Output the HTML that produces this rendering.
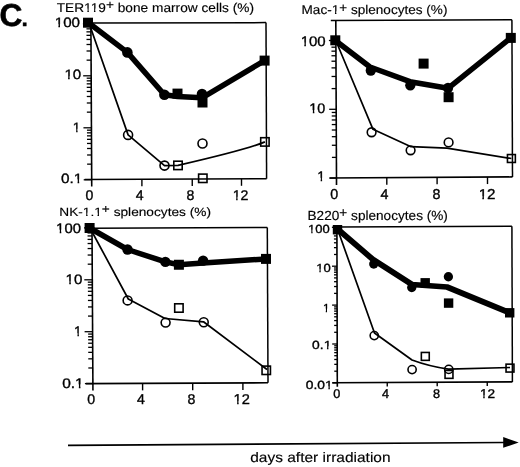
<!DOCTYPE html><html><head><meta charset="utf-8"><style>html,body{margin:0;padding:0;background:#fff;}svg{display:block;will-change:transform;}</style></head><body><svg width="520" height="467" viewBox="0 0 520 467" stroke="#000" fill="#000" font-family="Liberation Sans, sans-serif" text-rendering="geometricPrecision">
<rect x="0" y="0" width="520" height="467" fill="#fff" stroke="none"/>
<text id="C" transform="matrix(0.9893,0,0,0.9893,-0.55,25.73)" font-size="32" font-weight="bold" stroke="#000" stroke-width="0.6">C</text>
<text id="Cd" transform="matrix(0.7105,0,0,0.7105,21.40,25.75)" font-size="32" font-weight="bold" stroke="#000" stroke-width="0.6">.</text>
<text id="T1" transform="matrix(1.0538,0,0,0.9746,56.66,11.63)" font-size="13" stroke="#000" stroke-width="0.15">TER119<tspan dy="-2.3">+</tspan><tspan dy="2.3"> bone marrow cells (%)</tspan></text>
<g transform="matrix(1.0538,0,0,0.9746,56.66,11.63)" fill="#fff" stroke="none"><rect x="25.79" y="-3.17" width="3.36" height="4.97"/><rect x="30.54" y="-3.17" width="2.91" height="4.97"/><rect x="32.04" y="-3.17" width="3.36" height="4.97"/><rect x="36.79" y="-3.17" width="2.91" height="4.97"/></g>
<text id="T2" transform="matrix(1.0435,0,0,0.9835,301.54,14.42)" font-size="13" stroke="#000" stroke-width="0.15">Mac-1<tspan dy="-2.3">+</tspan><tspan dy="2.3"> splenocytes (%)</tspan></text>
<g transform="matrix(1.0435,0,0,0.9835,301.54,14.42)" fill="#fff" stroke="none"><rect x="28.67" y="-3.17" width="3.36" height="4.97"/><rect x="33.41" y="-3.17" width="2.91" height="4.97"/></g>
<text id="T3" transform="matrix(1.0526,0,0,0.9214,59.25,215.51)" font-size="13" stroke="#000" stroke-width="0.15">NK-1.1<tspan dy="-2.3">+</tspan><tspan dy="2.3"> splenocytes (%)</tspan></text>
<g transform="matrix(1.0526,0,0,0.9214,59.25,215.51)" fill="#fff" stroke="none"><rect x="22.17" y="-3.17" width="3.36" height="4.97"/><rect x="26.91" y="-3.17" width="2.91" height="4.97"/><rect x="33.01" y="-3.17" width="3.36" height="4.97"/><rect x="37.76" y="-3.17" width="2.91" height="4.97"/></g>
<text id="T4" transform="matrix(1.0469,0,0,1.0184,307.54,219.69)" font-size="13" stroke="#000" stroke-width="0.15">B220<tspan dy="-2.3">+</tspan><tspan dy="2.3"> splenocytes (%)</tspan></text>
<text id="DA" transform="matrix(1.0325,0,0,0.9257,250.24,462.29)" font-size="15" stroke="#000" stroke-width="0.15">days after irradiation</text>
<text id="p1y100" transform="matrix(1.0860,0,0,0.9706,54.70,27.33)" font-size="14" stroke="#000" stroke-width="0.35">100</text>
<g transform="matrix(1.0860,0,0,0.9706,54.70,27.33)" fill="#fff" stroke="none"><rect x="-0.13" y="-3.25" width="3.53" height="5.05"/><rect x="4.88" y="-3.25" width="3.07" height="5.05"/></g>
<text id="p1y10" transform="matrix(1.0806,0,0,0.9706,64.41,79.36)" font-size="14" stroke="#000" stroke-width="0.35">10</text>
<g transform="matrix(1.0806,0,0,0.9706,64.41,79.36)" fill="#fff" stroke="none"><rect x="-0.13" y="-3.25" width="3.53" height="5.05"/><rect x="4.88" y="-3.25" width="3.07" height="5.05"/></g>
<text id="p1y1" transform="matrix(0.9706,0,0,0.9706,72.85,131.96)" font-size="14" stroke="#000" stroke-width="0.35">1</text>
<g transform="matrix(0.9706,0,0,0.9706,72.85,131.96)" fill="#fff" stroke="none"><rect x="-0.13" y="-3.25" width="3.53" height="5.05"/><rect x="4.88" y="-3.25" width="3.07" height="5.05"/></g>
<text id="p1y01" transform="matrix(1.0971,0,0,0.9706,61.05,182.54)" font-size="14" stroke="#000" stroke-width="0.35">0.1</text>
<g transform="matrix(1.0971,0,0,0.9706,61.05,182.54)" fill="#fff" stroke="none"><rect x="11.54" y="-3.25" width="3.53" height="5.05"/><rect x="16.55" y="-3.25" width="3.07" height="5.05"/></g>
<text id="p1x0" transform="matrix(1.0035,0,0,1.0035,85.39,200.07)" font-size="14" stroke="#000" stroke-width="0.35">0</text>
<text id="p1x4" transform="matrix(1.0035,0,0,1.0035,135.73,200.07)" font-size="14" stroke="#000" stroke-width="0.35">4</text>
<text id="p1x8" transform="matrix(1.0035,0,0,1.0035,186.61,200.07)" font-size="14" stroke="#000" stroke-width="0.35">8</text>
<text id="p1x12" transform="matrix(1.0125,0,0,1.0035,232.69,200.07)" font-size="14" stroke="#000" stroke-width="0.35">12</text>
<g transform="matrix(1.0125,0,0,1.0035,232.69,200.07)" fill="#fff" stroke="none"><rect x="-0.13" y="-3.25" width="3.53" height="5.05"/><rect x="4.88" y="-3.25" width="3.07" height="5.05"/></g>
<text id="p2y100" transform="matrix(1.0724,0,0,0.9839,300.66,45.69)" font-size="14" stroke="#000" stroke-width="0.35">100</text>
<g transform="matrix(1.0724,0,0,0.9839,300.66,45.69)" fill="#fff" stroke="none"><rect x="-0.13" y="-3.25" width="3.53" height="5.05"/><rect x="4.88" y="-3.25" width="3.07" height="5.05"/></g>
<text id="p2y10" transform="matrix(1.0232,0,0,0.9839,309.35,113.34)" font-size="14" stroke="#000" stroke-width="0.35">10</text>
<g transform="matrix(1.0232,0,0,0.9839,309.35,113.34)" fill="#fff" stroke="none"><rect x="-0.13" y="-3.25" width="3.53" height="5.05"/><rect x="4.88" y="-3.25" width="3.07" height="5.05"/></g>
<text id="p2y1" transform="matrix(0.9839,0,0,0.9839,317.31,181.05)" font-size="14" stroke="#000" stroke-width="0.35">1</text>
<g transform="matrix(0.9839,0,0,0.9839,317.31,181.05)" fill="#fff" stroke="none"><rect x="-0.13" y="-3.25" width="3.53" height="5.05"/><rect x="4.88" y="-3.25" width="3.07" height="5.05"/></g>
<text id="p2x0" transform="matrix(1.0191,0,0,1.0191,330.25,199.36)" font-size="14" stroke="#000" stroke-width="0.35">0</text>
<text id="p2x4" transform="matrix(1.0191,0,0,1.0191,380.48,199.36)" font-size="14" stroke="#000" stroke-width="0.35">4</text>
<text id="p2x8" transform="matrix(1.0191,0,0,1.0191,432.46,199.36)" font-size="14" stroke="#000" stroke-width="0.35">8</text>
<text id="p2x12" transform="matrix(1.0834,0,0,1.0191,478.64,199.36)" font-size="14" stroke="#000" stroke-width="0.35">12</text>
<g transform="matrix(1.0834,0,0,1.0191,478.64,199.36)" fill="#fff" stroke="none"><rect x="-0.13" y="-3.25" width="3.53" height="5.05"/><rect x="4.88" y="-3.25" width="3.07" height="5.05"/></g>
<text id="p3y100" transform="matrix(1.0619,0,0,0.9834,56.11,232.85)" font-size="14" stroke="#000" stroke-width="0.35">100</text>
<g transform="matrix(1.0619,0,0,0.9834,56.11,232.85)" fill="#fff" stroke="none"><rect x="-0.13" y="-3.25" width="3.53" height="5.05"/><rect x="4.88" y="-3.25" width="3.07" height="5.05"/></g>
<text id="p3y10" transform="matrix(1.0805,0,0,0.9834,65.56,284.02)" font-size="14" stroke="#000" stroke-width="0.35">10</text>
<g transform="matrix(1.0805,0,0,0.9834,65.56,284.02)" fill="#fff" stroke="none"><rect x="-0.13" y="-3.25" width="3.53" height="5.05"/><rect x="4.88" y="-3.25" width="3.07" height="5.05"/></g>
<text id="p3y1" transform="matrix(0.9834,0,0,0.9834,74.10,336.38)" font-size="14" stroke="#000" stroke-width="0.35">1</text>
<g transform="matrix(0.9834,0,0,0.9834,74.10,336.38)" fill="#fff" stroke="none"><rect x="-0.13" y="-3.25" width="3.53" height="5.05"/><rect x="4.88" y="-3.25" width="3.07" height="5.05"/></g>
<text id="p3y01" transform="matrix(1.1057,0,0,0.9834,62.17,387.56)" font-size="14" stroke="#000" stroke-width="0.35">0.1</text>
<g transform="matrix(1.1057,0,0,0.9834,62.17,387.56)" fill="#fff" stroke="none"><rect x="11.54" y="-3.25" width="3.53" height="5.05"/><rect x="16.55" y="-3.25" width="3.07" height="5.05"/></g>
<text id="p3x0" transform="matrix(1.0109,0,0,1.0109,87.35,404.19)" font-size="14" stroke="#000" stroke-width="0.35">0</text>
<text id="p3x4" transform="matrix(1.0109,0,0,1.0109,136.88,404.19)" font-size="14" stroke="#000" stroke-width="0.35">4</text>
<text id="p3x8" transform="matrix(1.0109,0,0,1.0109,187.44,404.19)" font-size="14" stroke="#000" stroke-width="0.35">8</text>
<text id="p3x12" transform="matrix(1.0433,0,0,1.0109,233.57,404.19)" font-size="14" stroke="#000" stroke-width="0.35">12</text>
<g transform="matrix(1.0433,0,0,1.0109,233.57,404.19)" fill="#fff" stroke="none"><rect x="-0.13" y="-3.25" width="3.53" height="5.05"/><rect x="4.88" y="-3.25" width="3.07" height="5.05"/></g>
<text id="p4y100" transform="matrix(1.0810,0,0,0.9809,308.09,232.65)" font-size="12" stroke="#000" stroke-width="0.35">100</text>
<g transform="matrix(1.0810,0,0,0.9809,308.09,232.65)" fill="#fff" stroke="none"><rect x="-0.29" y="-3.10" width="3.18" height="4.90"/><rect x="4.20" y="-3.10" width="2.74" height="4.90"/></g>
<text id="p4y10" transform="matrix(1.0870,0,0,0.9809,316.18,271.84)" font-size="12" stroke="#000" stroke-width="0.35">10</text>
<g transform="matrix(1.0870,0,0,0.9809,316.18,271.84)" fill="#fff" stroke="none"><rect x="-0.29" y="-3.10" width="3.18" height="4.90"/><rect x="4.20" y="-3.10" width="2.74" height="4.90"/></g>
<text id="p4y1" transform="matrix(0.9809,0,0,0.9809,322.90,311.61)" font-size="12" stroke="#000" stroke-width="0.35">1</text>
<g transform="matrix(0.9809,0,0,0.9809,322.90,311.61)" fill="#fff" stroke="none"><rect x="-0.29" y="-3.10" width="3.18" height="4.90"/><rect x="4.20" y="-3.10" width="2.74" height="4.90"/></g>
<text id="p4y01" transform="matrix(1.1528,0,0,0.9809,312.09,349.36)" font-size="12" stroke="#000" stroke-width="0.35">0.1</text>
<g transform="matrix(1.1528,0,0,0.9809,312.09,349.36)" fill="#fff" stroke="none"><rect x="9.71" y="-3.10" width="3.18" height="4.90"/><rect x="14.20" y="-3.10" width="2.74" height="4.90"/></g>
<text id="p4y001" transform="matrix(1.1510,0,0,0.9809,305.84,389.23)" font-size="12" stroke="#000" stroke-width="0.35">0.01</text>
<g transform="matrix(1.1510,0,0,0.9809,305.84,389.23)" fill="#fff" stroke="none"><rect x="16.39" y="-3.10" width="3.18" height="4.90"/><rect x="20.87" y="-3.10" width="2.74" height="4.90"/></g>
<text id="p4x0" transform="matrix(1.0566,0,0,1.0566,333.17,398.38)" font-size="12" stroke="#000" stroke-width="0.35">0</text>
<text id="p4x4" transform="matrix(1.0566,0,0,1.0566,382.10,398.38)" font-size="12" stroke="#000" stroke-width="0.35">4</text>
<text id="p4x8" transform="matrix(1.0566,0,0,1.0566,432.96,398.38)" font-size="12" stroke="#000" stroke-width="0.35">8</text>
<text id="p4x12" transform="matrix(1.1321,0,0,1.0566,479.95,398.38)" font-size="12" stroke="#000" stroke-width="0.35">12</text>
<g transform="matrix(1.1321,0,0,1.0566,479.95,398.38)" fill="#fff" stroke="none"><rect x="-0.29" y="-3.10" width="3.18" height="4.90"/><rect x="4.20" y="-3.10" width="2.74" height="4.90"/></g>
<line x1="90.90" y1="23.10" x2="91.74" y2="186.40" stroke-width="1.6"/>
<line x1="90.90" y1="23.10" x2="266.00" y2="22.60" stroke-width="1.5"/>
<line x1="266.00" y1="22.60" x2="266.60" y2="178.70" stroke-width="1.5"/>
<line x1="84.70" y1="179.43" x2="266.60" y2="178.70" stroke-width="1.6"/>
<line x1="83.70" y1="179.80" x2="91.70" y2="179.80" stroke-width="1.3"/>
<line x1="87.12" y1="164.15" x2="91.62" y2="164.15" stroke-width="1.3"/>
<line x1="87.08" y1="154.99" x2="91.58" y2="154.99" stroke-width="1.3"/>
<line x1="87.04" y1="148.49" x2="91.54" y2="148.49" stroke-width="1.3"/>
<line x1="87.02" y1="143.45" x2="91.52" y2="143.45" stroke-width="1.3"/>
<line x1="86.99" y1="139.34" x2="91.49" y2="139.34" stroke-width="1.3"/>
<line x1="86.98" y1="135.85" x2="91.48" y2="135.85" stroke-width="1.3"/>
<line x1="86.96" y1="132.84" x2="91.46" y2="132.84" stroke-width="1.3"/>
<line x1="86.95" y1="130.18" x2="91.45" y2="130.18" stroke-width="1.3"/>
<line x1="83.44" y1="127.80" x2="91.44" y2="127.80" stroke-width="1.3"/>
<line x1="86.86" y1="112.15" x2="91.36" y2="112.15" stroke-width="1.3"/>
<line x1="86.81" y1="102.99" x2="91.31" y2="102.99" stroke-width="1.3"/>
<line x1="86.78" y1="96.49" x2="91.28" y2="96.49" stroke-width="1.3"/>
<line x1="86.75" y1="91.45" x2="91.25" y2="91.45" stroke-width="1.3"/>
<line x1="86.73" y1="87.34" x2="91.23" y2="87.34" stroke-width="1.3"/>
<line x1="86.71" y1="83.85" x2="91.21" y2="83.85" stroke-width="1.3"/>
<line x1="86.70" y1="80.84" x2="91.20" y2="80.84" stroke-width="1.3"/>
<line x1="86.68" y1="78.18" x2="91.18" y2="78.18" stroke-width="1.3"/>
<line x1="83.17" y1="75.80" x2="91.17" y2="75.80" stroke-width="1.3"/>
<line x1="86.59" y1="60.15" x2="91.09" y2="60.15" stroke-width="1.3"/>
<line x1="86.54" y1="50.99" x2="91.04" y2="50.99" stroke-width="1.3"/>
<line x1="86.51" y1="44.49" x2="91.01" y2="44.49" stroke-width="1.3"/>
<line x1="86.48" y1="39.45" x2="90.98" y2="39.45" stroke-width="1.3"/>
<line x1="86.46" y1="35.34" x2="90.96" y2="35.34" stroke-width="1.3"/>
<line x1="86.44" y1="31.85" x2="90.94" y2="31.85" stroke-width="1.3"/>
<line x1="86.43" y1="28.84" x2="90.93" y2="28.84" stroke-width="1.3"/>
<line x1="86.42" y1="26.18" x2="90.92" y2="26.18" stroke-width="1.3"/>
<line x1="82.90" y1="23.80" x2="90.90" y2="23.80" stroke-width="1.3"/>
<line x1="141.90" y1="179.20" x2="141.90" y2="186.20" stroke-width="1.4"/>
<line x1="192.25" y1="179.00" x2="192.25" y2="186.00" stroke-width="1.4"/>
<line x1="241.50" y1="178.80" x2="241.50" y2="185.80" stroke-width="1.4"/>
<polyline points="88.50,22.80 127.40,52.40 164.40,94.70 177.50,96.40 202.00,97.80 264.60,60.60" fill="none" stroke-width="5.5" stroke-linejoin="round" stroke-linecap="butt"/>
<path d="M89,23 L128.1,134.9 L164.5,165.6 L178,165.4 Q247,149.5 264.9,141.9" fill="none" stroke-width="1.7" stroke-linejoin="round"/>
<rect x="83.00" y="17.70" width="10" height="10" fill="#000" stroke="none"/>
<rect x="172.50" y="88.60" width="10" height="10" fill="#000" stroke="none"/>
<rect x="197.50" y="97.50" width="10" height="10" fill="#000" stroke="none"/>
<rect x="259.60" y="55.60" width="10" height="10" fill="#000" stroke="none"/>
<circle cx="127.40" cy="52.40" r="5.3" fill="#000" stroke="none"/>
<circle cx="164.40" cy="94.70" r="5.3" fill="#000" stroke="none"/>
<circle cx="202.00" cy="94.00" r="5.3" fill="#000" stroke="none"/>
<circle cx="128.10" cy="134.90" r="4.50" fill="none" stroke-width="1.6"/>
<circle cx="164.50" cy="165.60" r="4.50" fill="none" stroke-width="1.6"/>
<circle cx="202.50" cy="143.50" r="4.50" fill="none" stroke-width="1.6"/>
<rect x="173.80" y="161.20" width="8.40" height="8.40" fill="none" stroke-width="1.6"/>
<rect x="198.60" y="174.10" width="8.40" height="8.40" fill="none" stroke-width="1.6"/>
<rect x="260.70" y="137.70" width="8.40" height="8.40" fill="none" stroke-width="1.6"/>
<line x1="335.80" y1="20.50" x2="336.53" y2="185.00" stroke-width="1.6"/>
<line x1="330.80" y1="20.52" x2="511.90" y2="19.80" stroke-width="1.5"/>
<line x1="511.90" y1="19.80" x2="512.50" y2="176.90" stroke-width="1.5"/>
<line x1="329.50" y1="178.04" x2="512.50" y2="176.90" stroke-width="1.6"/>
<line x1="329.50" y1="178.10" x2="336.50" y2="178.10" stroke-width="1.3"/>
<line x1="331.91" y1="157.39" x2="336.41" y2="157.39" stroke-width="1.3"/>
<line x1="331.85" y1="145.27" x2="336.35" y2="145.27" stroke-width="1.3"/>
<line x1="331.82" y1="136.68" x2="336.32" y2="136.68" stroke-width="1.3"/>
<line x1="331.79" y1="130.01" x2="336.29" y2="130.01" stroke-width="1.3"/>
<line x1="331.76" y1="124.56" x2="336.26" y2="124.56" stroke-width="1.3"/>
<line x1="331.74" y1="119.96" x2="336.24" y2="119.96" stroke-width="1.3"/>
<line x1="331.72" y1="115.97" x2="336.22" y2="115.97" stroke-width="1.3"/>
<line x1="331.71" y1="112.45" x2="336.21" y2="112.45" stroke-width="1.3"/>
<line x1="329.19" y1="109.30" x2="336.19" y2="109.30" stroke-width="1.3"/>
<line x1="331.60" y1="88.59" x2="336.10" y2="88.59" stroke-width="1.3"/>
<line x1="331.55" y1="76.47" x2="336.05" y2="76.47" stroke-width="1.3"/>
<line x1="331.51" y1="67.88" x2="336.01" y2="67.88" stroke-width="1.3"/>
<line x1="331.48" y1="61.21" x2="335.98" y2="61.21" stroke-width="1.3"/>
<line x1="331.46" y1="55.76" x2="335.96" y2="55.76" stroke-width="1.3"/>
<line x1="331.44" y1="51.16" x2="335.94" y2="51.16" stroke-width="1.3"/>
<line x1="331.42" y1="47.17" x2="335.92" y2="47.17" stroke-width="1.3"/>
<line x1="331.40" y1="43.65" x2="335.90" y2="43.65" stroke-width="1.3"/>
<line x1="328.89" y1="40.50" x2="335.89" y2="40.50" stroke-width="1.3"/>
<line x1="386.80" y1="177.69" x2="386.80" y2="184.69" stroke-width="1.4"/>
<line x1="437.10" y1="177.37" x2="437.10" y2="184.37" stroke-width="1.4"/>
<line x1="487.50" y1="177.06" x2="487.50" y2="184.06" stroke-width="1.4"/>
<polyline points="335.00,40.30 370.00,67.00 410.00,81.70 448.00,88.30 510.80,37.90" fill="none" stroke-width="5.5" stroke-linejoin="round" stroke-linecap="butt"/>
<polyline points="336.00,41.00 373.00,129.30 411.00,146.70 447.00,148.20 511.40,158.50" fill="none" stroke-width="1.7" stroke-linejoin="round" stroke-linecap="butt"/>
<rect x="330.30" y="35.30" width="10" height="10" fill="#000" stroke="none"/>
<rect x="418.60" y="58.60" width="10" height="10" fill="#000" stroke="none"/>
<rect x="443.60" y="92.20" width="10" height="10" fill="#000" stroke="none"/>
<rect x="505.80" y="32.90" width="10" height="10" fill="#000" stroke="none"/>
<circle cx="370.80" cy="70.50" r="5.15" fill="#000" stroke="none"/>
<circle cx="410.30" cy="85.30" r="5.15" fill="#000" stroke="none"/>
<circle cx="448.00" cy="88.00" r="5.15" fill="#000" stroke="none"/>
<circle cx="371.60" cy="132.25" r="4.35" fill="none" stroke-width="1.6"/>
<circle cx="410.60" cy="150.30" r="4.35" fill="none" stroke-width="1.6"/>
<circle cx="448.60" cy="142.40" r="4.35" fill="none" stroke-width="1.6"/>
<rect x="507.45" y="154.55" width="7.90" height="7.90" fill="none" stroke-width="1.6"/>
<line x1="92.00" y1="228.30" x2="92.94" y2="390.60" stroke-width="1.6"/>
<line x1="92.00" y1="228.30" x2="267.30" y2="227.50" stroke-width="1.5"/>
<line x1="267.30" y1="227.50" x2="268.00" y2="382.80" stroke-width="1.5"/>
<line x1="85.90" y1="383.63" x2="268.00" y2="382.80" stroke-width="1.6"/>
<line x1="84.90" y1="383.60" x2="92.90" y2="383.60" stroke-width="1.3"/>
<line x1="88.31" y1="367.98" x2="92.81" y2="367.98" stroke-width="1.3"/>
<line x1="88.26" y1="358.84" x2="92.76" y2="358.84" stroke-width="1.3"/>
<line x1="88.22" y1="352.35" x2="92.72" y2="352.35" stroke-width="1.3"/>
<line x1="88.19" y1="347.32" x2="92.69" y2="347.32" stroke-width="1.3"/>
<line x1="88.17" y1="343.21" x2="92.67" y2="343.21" stroke-width="1.3"/>
<line x1="88.15" y1="339.74" x2="92.65" y2="339.74" stroke-width="1.3"/>
<line x1="88.13" y1="336.73" x2="92.63" y2="336.73" stroke-width="1.3"/>
<line x1="88.11" y1="334.07" x2="92.61" y2="334.07" stroke-width="1.3"/>
<line x1="84.60" y1="331.70" x2="92.60" y2="331.70" stroke-width="1.3"/>
<line x1="88.01" y1="316.08" x2="92.51" y2="316.08" stroke-width="1.3"/>
<line x1="87.96" y1="306.94" x2="92.46" y2="306.94" stroke-width="1.3"/>
<line x1="87.92" y1="300.45" x2="92.42" y2="300.45" stroke-width="1.3"/>
<line x1="87.89" y1="295.42" x2="92.39" y2="295.42" stroke-width="1.3"/>
<line x1="87.87" y1="291.31" x2="92.37" y2="291.31" stroke-width="1.3"/>
<line x1="87.85" y1="287.84" x2="92.35" y2="287.84" stroke-width="1.3"/>
<line x1="87.83" y1="284.83" x2="92.33" y2="284.83" stroke-width="1.3"/>
<line x1="87.81" y1="282.17" x2="92.31" y2="282.17" stroke-width="1.3"/>
<line x1="84.30" y1="279.80" x2="92.30" y2="279.80" stroke-width="1.3"/>
<line x1="87.71" y1="264.18" x2="92.21" y2="264.18" stroke-width="1.3"/>
<line x1="87.65" y1="255.04" x2="92.15" y2="255.04" stroke-width="1.3"/>
<line x1="87.62" y1="248.55" x2="92.12" y2="248.55" stroke-width="1.3"/>
<line x1="87.59" y1="243.52" x2="92.09" y2="243.52" stroke-width="1.3"/>
<line x1="87.56" y1="239.41" x2="92.06" y2="239.41" stroke-width="1.3"/>
<line x1="87.54" y1="235.94" x2="92.04" y2="235.94" stroke-width="1.3"/>
<line x1="87.53" y1="232.93" x2="92.03" y2="232.93" stroke-width="1.3"/>
<line x1="87.51" y1="230.27" x2="92.01" y2="230.27" stroke-width="1.3"/>
<line x1="84.00" y1="227.90" x2="92.00" y2="227.90" stroke-width="1.3"/>
<line x1="142.60" y1="383.37" x2="142.60" y2="390.37" stroke-width="1.4"/>
<line x1="192.70" y1="383.14" x2="192.70" y2="390.14" stroke-width="1.4"/>
<line x1="242.90" y1="382.91" x2="242.90" y2="389.91" stroke-width="1.4"/>
<polyline points="89.60,228.00 127.50,249.50 165.40,261.90 178.90,264.75 203.10,263.00 266.00,258.90" fill="none" stroke-width="5.5" stroke-linejoin="round" stroke-linecap="butt"/>
<polyline points="90.00,228.00 128.30,299.00 165.00,318.50 203.50,321.80 267.00,369.50" fill="none" stroke-width="1.7" stroke-linejoin="round" stroke-linecap="butt"/>
<rect x="84.60" y="223.00" width="10" height="10" fill="#000" stroke="none"/>
<rect x="173.90" y="259.75" width="10" height="10" fill="#000" stroke="none"/>
<rect x="261.00" y="253.90" width="10" height="10" fill="#000" stroke="none"/>
<circle cx="127.50" cy="249.50" r="5.2" fill="#000" stroke="none"/>
<circle cx="165.40" cy="261.90" r="5.2" fill="#000" stroke="none"/>
<circle cx="203.10" cy="260.60" r="5.2" fill="#000" stroke="none"/>
<circle cx="127.60" cy="300.40" r="4.45" fill="none" stroke-width="1.6"/>
<circle cx="165.60" cy="322.60" r="4.45" fill="none" stroke-width="1.6"/>
<circle cx="203.75" cy="322.25" r="4.45" fill="none" stroke-width="1.6"/>
<rect x="174.70" y="303.80" width="8.40" height="8.40" fill="none" stroke-width="1.6"/>
<rect x="262.05" y="366.10" width="8.40" height="8.40" fill="none" stroke-width="1.6"/>
<line x1="336.90" y1="227.00" x2="337.31" y2="386.70" stroke-width="1.6"/>
<line x1="336.90" y1="227.00" x2="511.90" y2="226.20" stroke-width="1.5"/>
<line x1="511.90" y1="226.20" x2="512.40" y2="381.90" stroke-width="1.5"/>
<line x1="332.30" y1="382.72" x2="512.40" y2="381.90" stroke-width="1.6"/>
<line x1="332.30" y1="382.90" x2="337.30" y2="382.90" stroke-width="1.3"/>
<line x1="334.27" y1="371.19" x2="337.27" y2="371.19" stroke-width="1.3"/>
<line x1="334.25" y1="364.34" x2="337.25" y2="364.34" stroke-width="1.3"/>
<line x1="334.24" y1="359.48" x2="337.24" y2="359.48" stroke-width="1.3"/>
<line x1="334.23" y1="355.71" x2="337.23" y2="355.71" stroke-width="1.3"/>
<line x1="334.22" y1="352.63" x2="337.22" y2="352.63" stroke-width="1.3"/>
<line x1="334.22" y1="350.03" x2="337.22" y2="350.03" stroke-width="1.3"/>
<line x1="334.21" y1="347.77" x2="337.21" y2="347.77" stroke-width="1.3"/>
<line x1="334.21" y1="345.78" x2="337.21" y2="345.78" stroke-width="1.3"/>
<line x1="332.20" y1="344.00" x2="337.20" y2="344.00" stroke-width="1.3"/>
<line x1="334.17" y1="332.29" x2="337.17" y2="332.29" stroke-width="1.3"/>
<line x1="334.15" y1="325.44" x2="337.15" y2="325.44" stroke-width="1.3"/>
<line x1="334.14" y1="320.58" x2="337.14" y2="320.58" stroke-width="1.3"/>
<line x1="334.13" y1="316.81" x2="337.13" y2="316.81" stroke-width="1.3"/>
<line x1="334.12" y1="313.73" x2="337.12" y2="313.73" stroke-width="1.3"/>
<line x1="334.12" y1="311.13" x2="337.12" y2="311.13" stroke-width="1.3"/>
<line x1="334.11" y1="308.87" x2="337.11" y2="308.87" stroke-width="1.3"/>
<line x1="334.11" y1="306.88" x2="337.11" y2="306.88" stroke-width="1.3"/>
<line x1="332.10" y1="305.10" x2="337.10" y2="305.10" stroke-width="1.3"/>
<line x1="334.07" y1="293.39" x2="337.07" y2="293.39" stroke-width="1.3"/>
<line x1="334.05" y1="286.54" x2="337.05" y2="286.54" stroke-width="1.3"/>
<line x1="334.04" y1="281.68" x2="337.04" y2="281.68" stroke-width="1.3"/>
<line x1="334.03" y1="277.91" x2="337.03" y2="277.91" stroke-width="1.3"/>
<line x1="334.02" y1="274.83" x2="337.02" y2="274.83" stroke-width="1.3"/>
<line x1="334.02" y1="272.23" x2="337.02" y2="272.23" stroke-width="1.3"/>
<line x1="334.01" y1="269.97" x2="337.01" y2="269.97" stroke-width="1.3"/>
<line x1="334.01" y1="267.98" x2="337.01" y2="267.98" stroke-width="1.3"/>
<line x1="332.00" y1="266.20" x2="337.00" y2="266.20" stroke-width="1.3"/>
<line x1="333.97" y1="254.49" x2="336.97" y2="254.49" stroke-width="1.3"/>
<line x1="333.95" y1="247.64" x2="336.95" y2="247.64" stroke-width="1.3"/>
<line x1="333.94" y1="242.78" x2="336.94" y2="242.78" stroke-width="1.3"/>
<line x1="333.93" y1="239.01" x2="336.93" y2="239.01" stroke-width="1.3"/>
<line x1="333.92" y1="235.93" x2="336.92" y2="235.93" stroke-width="1.3"/>
<line x1="333.92" y1="233.33" x2="336.92" y2="233.33" stroke-width="1.3"/>
<line x1="333.91" y1="231.07" x2="336.91" y2="231.07" stroke-width="1.3"/>
<line x1="333.91" y1="229.08" x2="336.91" y2="229.08" stroke-width="1.3"/>
<line x1="331.90" y1="227.30" x2="336.90" y2="227.30" stroke-width="1.3"/>
<line x1="387.25" y1="382.47" x2="387.25" y2="386.47" stroke-width="1.4"/>
<line x1="437.20" y1="382.24" x2="437.20" y2="386.24" stroke-width="1.4"/>
<line x1="487.25" y1="382.01" x2="487.25" y2="386.01" stroke-width="1.4"/>
<polyline points="337.50,229.00 373.00,259.50 412.00,284.50 447.00,287.00 509.70,312.80" fill="none" stroke-width="5.7" stroke-linejoin="round" stroke-linecap="butt"/>
<path d="M337.5,229 L374.5,333 L412,360 Q428,366 448.5,369.2 L510,367.5" fill="none" stroke-width="1.7" stroke-linejoin="round"/>
<rect x="332.80" y="225.00" width="9.4" height="9.4" fill="#000" stroke="none"/>
<rect x="420.50" y="278.10" width="9.4" height="9.4" fill="#000" stroke="none"/>
<rect x="443.90" y="298.40" width="9.4" height="9.4" fill="#000" stroke="none"/>
<rect x="505.00" y="308.10" width="9.4" height="9.4" fill="#000" stroke="none"/>
<circle cx="373.75" cy="264.00" r="4.65" fill="#000" stroke="none"/>
<circle cx="411.75" cy="287.50" r="4.65" fill="#000" stroke="none"/>
<circle cx="448.40" cy="276.75" r="4.65" fill="#000" stroke="none"/>
<circle cx="374.25" cy="335.60" r="4.10" fill="none" stroke-width="1.6"/>
<circle cx="412.10" cy="369.60" r="4.10" fill="none" stroke-width="1.6"/>
<circle cx="448.75" cy="369.40" r="4.10" fill="none" stroke-width="1.6"/>
<rect x="421.35" y="352.45" width="7.90" height="7.90" fill="none" stroke-width="1.6"/>
<rect x="445.05" y="370.45" width="7.90" height="7.90" fill="none" stroke-width="1.6"/>
<rect x="506.05" y="364.15" width="7.90" height="7.90" fill="none" stroke-width="1.6"/>
<line x1="68.00" y1="445.40" x2="504.00" y2="442.50" stroke-width="1.7"/>
<polygon points="503.2,437.1 503.2,447.8 518.7,442.4" stroke="none"/>
</svg></body></html>
